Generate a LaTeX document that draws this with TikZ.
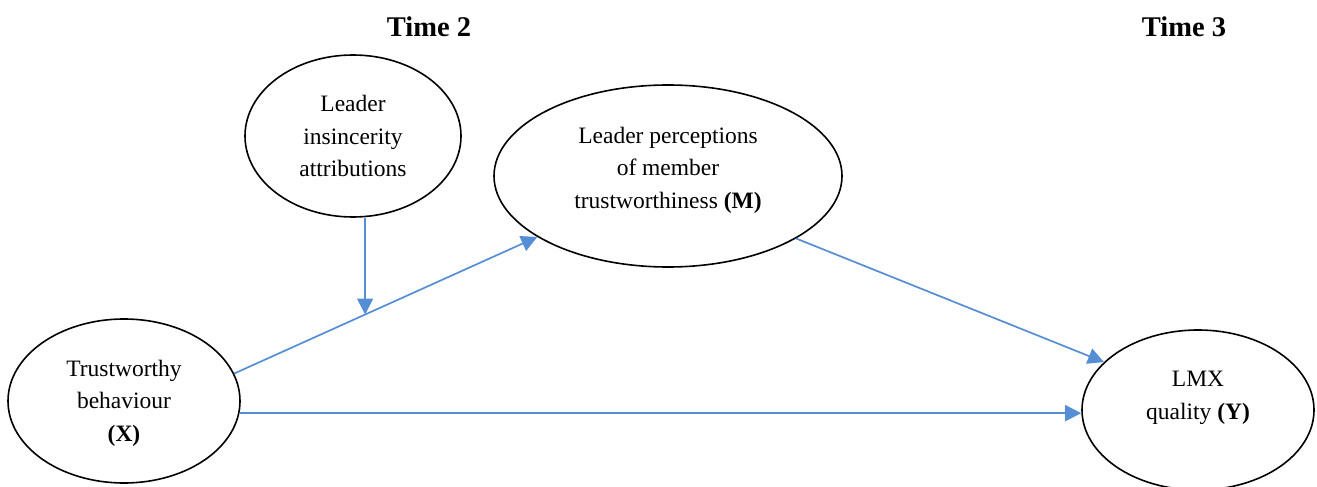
\documentclass[tikz,border=0pt]{standalone}
\usepackage{fontspec}
\setmainfont{Liberation Serif}
\usetikzlibrary{arrows.meta,shapes.geometric,calc}
\definecolor{linkblue}{RGB}{85,142,213}
\begin{document}
\begin{tikzpicture}[x=1pt,y=-1pt,
  latent/.style={draw=black,line width=1.6pt,ellipse,inner sep=0pt},
  txt/.style={align=center,inner sep=0pt,font=\fontsize{23.5}{32.5}\selectfont},
  link/.style={draw=linkblue,line width=1.7pt,-{Triangle[length=16pt,width=16pt]}},
  timelbl/.style={font=\fontsize{28.5}{32}\selectfont\bfseries,anchor=base}]
\useasboundingbox (0,0) rectangle (1317,487);

% time headers
\node[timelbl] (t2) at (429,37) {Time 2};
\node[timelbl] (t3) at (1184,37) {Time 3};

% latent variables
\node[latent,minimum width=232pt,minimum height=164pt] (X) at (124,401) {};
\node[latent,minimum width=216pt,minimum height=162pt] (L) at (353,136) {};
\node[latent,minimum width=348pt,minimum height=182pt] (M) at (668,176) {};
\node[latent,minimum width=232pt,minimum height=160pt] (Y) at (1198,410) {};

% their texts
\node[txt] (Xt) at ($(X.center)+(0,2)$) {Trustworthy\\behaviour\\\textbf{(X)}};
\node[txt] (Lt) at (L.center) {Leader\\insincerity\\attributions};
\node[txt] (Mt) at ($(M.center)+(0,-6)$) {Leader perceptions\\of member\\trustworthiness \textbf{(M)}};
\node[txt] (Yt) at ($(Y.center)+(0,-12)$) {LMX\\quality \textbf{(Y)}};

% paths
\draw[link] (X.14.4) -- (M.205.7);
\coordinate (mod) at ($(X.14.4)!0.432!(M.205.7)$);
\draw[link] (mod |- L.south) -- (mod);
\draw[link] (M.-26.2) -- (Y.153.2);
\draw[link] (X.-6) -- (X.-6 -| Y.west);
\end{tikzpicture}
\end{document}
